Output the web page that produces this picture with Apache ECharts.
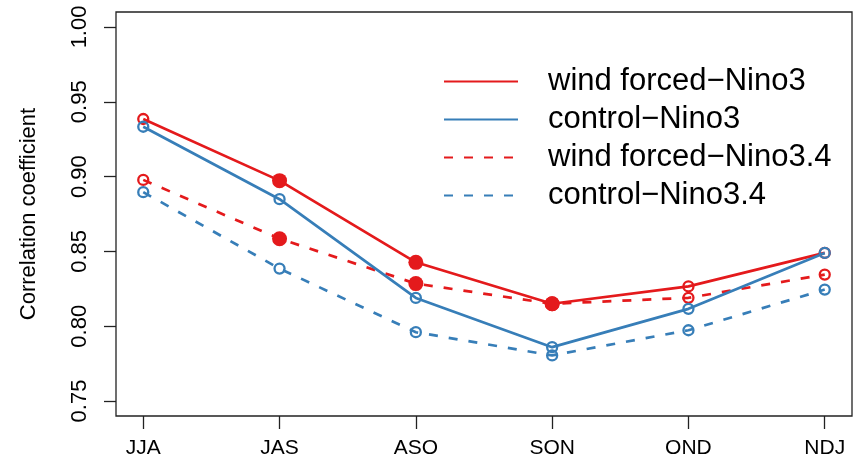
<!DOCTYPE html>
<html>
<head>
<meta charset="utf-8">
<script src="https://cdn.jsdelivr.net/npm/echarts@6/dist/echarts.min.js"></script>
<style>html,body{margin:0;padding:0;background:#fff}#c{width:859px;height:467px}</style>
</head>
<body>
<div id="c"></div>
<script>
const categories = ['JJA', 'JAS', 'ASO', 'SON', 'OND', 'NDJ'];
const windForcedNino3 = [0.9385, 0.8973, 0.8427, 0.8150, 0.8266, 0.8490];
const controlNino3 = [0.9333, 0.8849, 0.8189, 0.7860, 0.8116, 0.8490];
const windForcedNino34 = [0.8978, 0.8585, 0.8285, 0.8150, 0.8190, 0.8345];
const controlNino34 = [0.8896, 0.8385, 0.7960, 0.7805, 0.7973, 0.8245];
const filledWind = [false, true, true, true, false, false];
const yTicks = [0.75, 0.80, 0.85, 0.90, 0.95, 1.00];
const xTicks = [1, 2, 3, 4, 5, 6];

const RED = '#E41A1C', BLUE = '#377EB8';
const FONT = "'Liberation Sans', Arial, Helvetica, sans-serif";

function mk(name, vals, color, dashed, filled) {
  return {
    name: name,
    type: 'line',
    data: vals.map((v, i) => {
      const f = filled && filled[i];
      return {
        value: [i + 1, v],
        symbolSize: f ? 15 : 10,
        itemStyle: f ? {color: color, borderColor: color, borderWidth: 0}
                     : {color: 'rgba(0,0,0,0)', borderColor: color, borderWidth: 2.3}
      };
    }),
    symbol: 'circle',
    showSymbol: true,
    lineStyle: {color: color, width: 2.7, type: dashed ? [9, 11] : 'solid'},
    itemStyle: {color: color},
    animation: false,
    emphasis: {disabled: true}
  };
}

const chart = echarts.init(document.getElementById('c'), null, {renderer: 'canvas'});
chart.setOption({
  backgroundColor: '#fff',
  animation: false,
  textStyle: {fontFamily: FONT},
  grid: {left: 116, right: 7, top: 12, bottom: 51, show: true, borderColor: '#222', borderWidth: 1.3, backgroundColor: 'transparent'},
  xAxis: {
    type: 'value', min: 0.8, max: 6.2,
    axisLine: {show: false},
    splitLine: {show: false},
    axisTick: {show: true, length: 13, customValues: xTicks, lineStyle: {color: '#222', width: 1.3}},
    axisLabel: {customValues: xTicks, formatter: v => categories[Math.round(v) - 1], fontSize: 21, color: '#000', margin: 22, fontFamily: FONT}
  },
  yAxis: {
    type: 'value', min: 0.74, max: 1.01,
    name: 'Correlation coefficient', nameLocation: 'middle', nameRotate: 90, nameGap: 76,
    nameTextStyle: {fontSize: 22, color: '#000', fontFamily: FONT},
    axisLine: {show: false},
    splitLine: {show: false},
    axisTick: {show: true, length: 12, customValues: yTicks, lineStyle: {color: '#222', width: 1.3}},
    axisLabel: {customValues: yTicks, rotate: 90, formatter: v => v.toFixed(2), fontSize: 22, color: '#000', margin: 25, fontFamily: FONT}
  },
  legend: {
    orient: 'vertical', left: 443, top: 66, padding: 0,
    itemWidth: 74, itemHeight: 14, itemGap: 7,
    data: ['wind forced\u2212Nino3', 'control\u2212Nino3', 'wind forced\u2212Nino3.4', 'control\u2212Nino3.4'],
    itemStyle: {color: 'rgba(0,0,0,0)', borderColor: 'rgba(0,0,0,0)', borderWidth: 0},
    textStyle: {fontSize: 31, lineHeight: 30, color: '#000', padding: [0, 0, 0, 25], fontFamily: FONT},
    selectedMode: false
  },
  series: [
    mk('wind forced\u2212Nino3', windForcedNino3, RED, false, filledWind),
    mk('wind forced\u2212Nino3.4', windForcedNino34, RED, true, filledWind),
    mk('control\u2212Nino3', controlNino3, BLUE, false, null),
    mk('control\u2212Nino3.4', controlNino34, BLUE, true, null)
  ]
});
</script>
</body>
</html>
